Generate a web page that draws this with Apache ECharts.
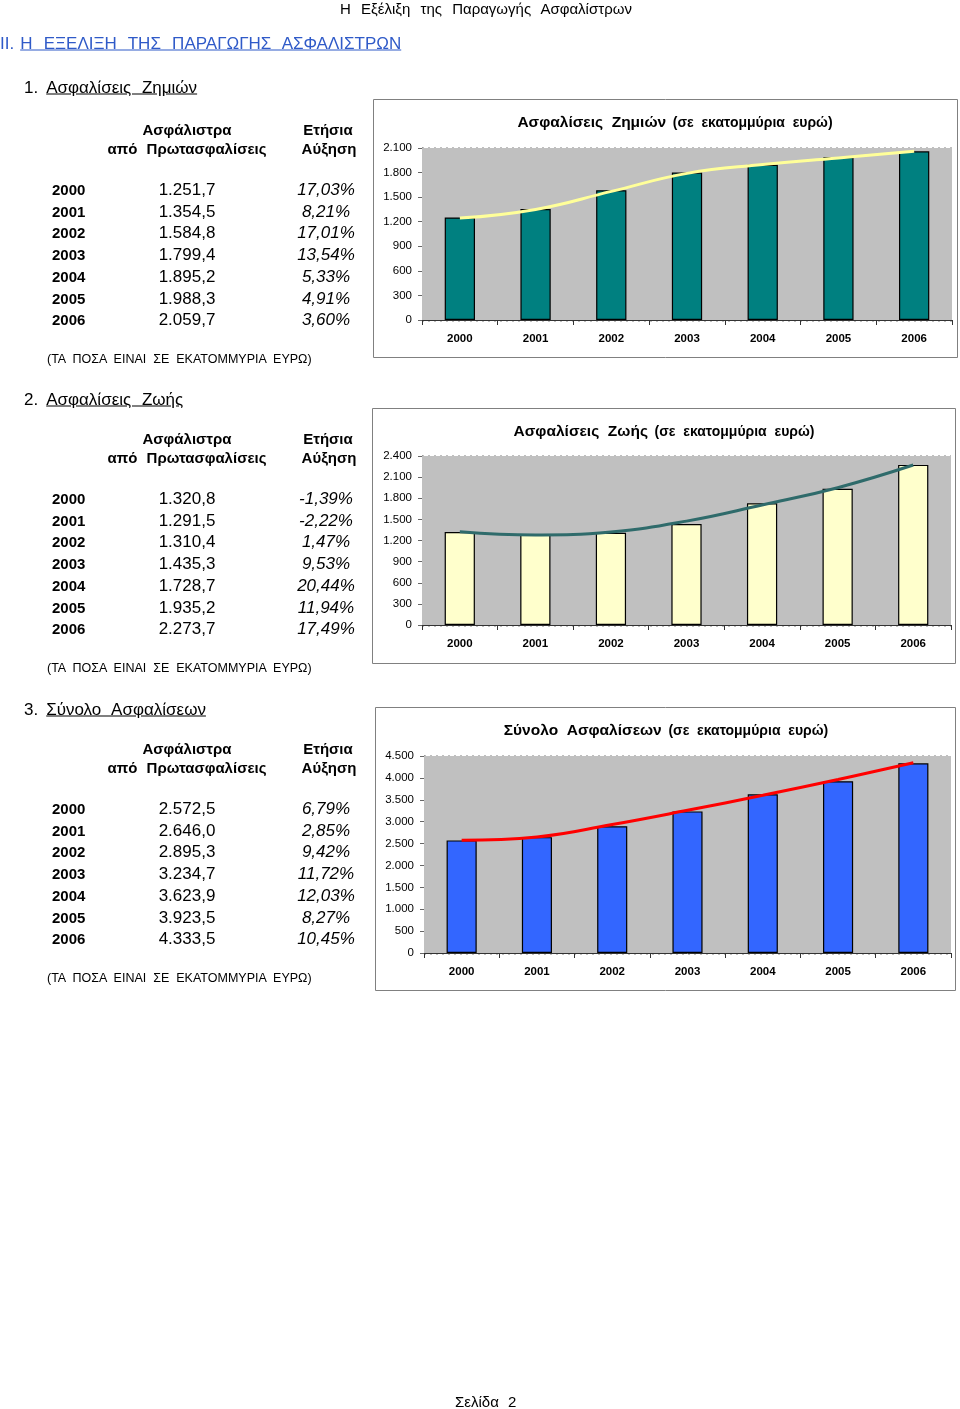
<!DOCTYPE html>
<html><head><meta charset="utf-8">
<script src="https://cdn.jsdelivr.net/npm/echarts@6/dist/echarts.min.js"></script>
<style>
body{margin:0;background:#fff;}
#page{position:relative;width:960px;height:1409px;font-family:"Liberation Sans",Arial,sans-serif;color:#000;overflow:hidden;}
#chart{position:absolute;left:0;top:0;width:960px;height:1409px;}
.t{position:absolute;white-space:pre;word-spacing:5px;line-height:1;}
.u{text-decoration:underline;}
</style></head><body><div id="page"><div id="chart"></div></div>
<script>
// ---------- data ----------
const years = ['2000','2001','2002','2003','2004','2005','2006'];

const damagePremiums = [1251.7, 1354.5, 1584.8, 1799.4, 1895.2, 1988.3, 2059.7];
const damageGrowth   = ['17,03%','8,21%','17,01%','13,54%','5,33%','4,91%','3,60%'];
const damageTrend    = [1244, 1350, 1570, 1790, 1898, 1978, 2060];

const lifePremiums = [1320.8, 1291.5, 1310.4, 1435.3, 1728.7, 1935.2, 2273.7];
const lifeGrowth   = ['-1,39%','-2,22%','1,47%','9,53%','20,44%','11,94%','17,49%'];
const lifeTrend    = [1325, 1278, 1322, 1475, 1704, 1950, 2272];

const totalPremiums = [2572.5, 2646.0, 2895.3, 3234.7, 3623.9, 3923.5, 4333.5];
const totalGrowth   = ['6,79%','2,85%','9,42%','11,72%','12,03%','8,27%','10,45%'];
const totalTrend    = [2577, 2650, 2935, 3260, 3603, 3965, 4345];

const pageHeader = 'Η Εξέλιξη της Παραγωγής Ασφαλίστρων';
const chapterTitle = 'Η ΕΞΕΛΙΞΗ ΤΗΣ ΠΑΡΑΓΩΓΗΣ ΑΣΦΑΛΙΣΤΡΩΝ';
const sectionTitles = ['Ασφαλίσεις Ζημιών','Ασφαλίσεις Ζωής','Σύνολο Ασφαλίσεων'];
const chartUnit = '(σε εκατομμύρια ευρώ)';
const tableNote = '(ΤΑ ΠΟΣΑ ΕΙΝΑΙ ΣΕ ΕΚΑΤΟΜΜΥΡΙΑ ΕΥΡΩ)';
const footer = 'Σελίδα 2';

// ---------- helpers ----------
const page = document.getElementById('page');
function fmtGr(v, dec){
  let s = v.toFixed(dec);
  let [i, d] = s.split('.');
  i = i.replace(/\B(?=(\d{3})+(?!\d))/g, '.');
  return d !== undefined ? i + ',' + d : i;
}
function txt(html, x, y, css, align){
  const d = document.createElement('div');
  d.className = 't';
  d.innerHTML = html;
  d.style.left = x + 'px';
  d.style.top = y + 'px';
  const tx = align === 'center' ? '-50%' : (align === 'right' ? '-100%' : '0');
  d.style.transform = 'translate(' + tx + ',-50%)';
  d.style.cssText += ';' + (css || '');
  page.appendChild(d);
  return d;
}

// ---------- page text ----------
txt(pageHeader, 340, 8, 'font-size:15px;word-spacing:6px;');
txt('II.<span class="u" style="margin-left:6px">' + chapterTitle + '</span>', 0, 43, 'font-size:17px;color:#2f5ac8;word-spacing:6.5px;');

const tables = [
  {premiums: damagePremiums, growth: damageGrowth, head: 87, top: 129},
  {premiums: lifePremiums,   growth: lifeGrowth,   head: 399, top: 438},
  {premiums: totalPremiums,  growth: totalGrowth,  head: 709, top: 748}
];
tables.forEach((tb, k) => {
  txt((k+1) + '.<span class="u" style="margin-left:8px">' + sectionTitles[k] + '</span>', 24, tb.head, 'font-size:17px;word-spacing:6px;');
  txt('Ασφάλιστρα', 187, tb.top, 'font-size:15px;font-weight:bold;', 'center');
  txt('από Πρωτασφαλίσεις', 187, tb.top + 19, 'font-size:15px;font-weight:bold;', 'center');
  txt('Ετήσια', 328, tb.top, 'font-size:15px;font-weight:bold;', 'center');
  txt('Αύξηση', 329, tb.top + 19, 'font-size:15px;font-weight:bold;', 'center');
  years.forEach((y, i) => {
    const ry = tb.top + 60 + i * 21.7;
    txt(y, 52, ry, 'font-size:15px;font-weight:bold;');
    txt(fmtGr(tb.premiums[i], 1), 187, ry, 'font-size:17px;', 'center');
    txt(tb.growth[i], 326, ry, 'font-size:17px;font-style:italic;', 'center');
  });
  txt(tableNote, 47, tb.top + 230, 'font-size:12.5px;word-spacing:3.5px;');
});
txt(footer, 455, 1401, 'font-size:15px;');

// ---------- charts ----------
const chartDefs = [
  {title: sectionTitles[0], values: damagePremiums, trend: damageTrend, max: 2100, interval: 300,
   bar: '#008080', line: '#ffff99', grid: {left: 422, top: 148, width: 530, height: 172},
   box: [373, 99, 584, 258], tx: 675, ty: 123},
  {title: sectionTitles[1], values: lifePremiums, trend: lifeTrend, max: 2400, interval: 300,
   bar: '#ffffcc', line: '#2f6b6b', grid: {left: 422, top: 456, width: 529, height: 169},
   box: [372, 408, 583, 255], tx: 664, ty: 432},
  {title: sectionTitles[2], values: totalPremiums, trend: totalTrend, max: 4500, interval: 500,
   bar: '#3366ff', line: '#ff0000', grid: {left: 424, top: 756, width: 527, height: 197},
   box: [375, 707, 580, 283], tx: 666, ty: 731}
];

const chart = echarts.init(document.getElementById('chart'));
const option = {
  animation: false,
  grid: [], xAxis: [], yAxis: [], series: [], graphic: []
};
chartDefs.forEach((c, k) => {
  option.graphic.push({
    type: 'rect', z: -10, silent: true,
    shape: {x: c.box[0] + 0.5, y: c.box[1] + 0.5, width: c.box[2], height: c.box[3]},
    style: {fill: '#fff', stroke: '#808080', lineWidth: 1}
  });
  option.graphic.push({
    type: 'text', x: c.tx, y: c.ty, z: 10,
    style: {
      text: '{a|' + c.title.replace(' ', '  ') + '}  {b|' + chartUnit.replace(/ /g, '  ') + '}',
      align: 'center', verticalAlign: 'middle',
      rich: {
        a: {fontFamily: 'Liberation Sans', fontSize: 15.5, fontWeight: 'bold', fill: '#000'},
        b: {fontFamily: 'Liberation Sans', fontSize: 14, fontWeight: 'bold', fill: '#000'}
      }
    }
  });
  option.grid.push(Object.assign({show: true, backgroundColor: '#c0c0c0', borderWidth: 0, z: 1}, c.grid));
  option.xAxis.push({
    type: 'category', gridIndex: k, data: years, boundaryGap: true,
    axisLine: {lineStyle: {color: '#333', width: 1}},
    axisTick: {show: true, length: 5, lineStyle: {color: '#333'}},
    axisLabel: {fontFamily: 'Liberation Sans', fontSize: 11.5, fontWeight: 'bold', color: '#000', margin: 13},
    splitLine: {show: false}
  });
  option.yAxis.push({
    type: 'value', gridIndex: k, min: 0, max: c.max, interval: c.interval,
    axisLine: {show: true, lineStyle: {color: '#666', width: 1}},
    axisTick: {show: true, length: 4, lineStyle: {color: '#666'}},
    axisLabel: {fontFamily: 'Liberation Sans', fontSize: 11.5, color: '#000', margin: 10,
      formatter: v => fmtGr(v, 0)},
    splitLine: {show: true, lineStyle: {color: '#000', type: [2, 4], width: 1.3}}
  });
  option.series.push({
    type: 'bar', xAxisIndex: k, yAxisIndex: k, data: c.values, barWidth: '40%',
    itemStyle: {color: c.bar, borderColor: '#000', borderWidth: 1.2}, z: 2
  });
  option.series.push({
    type: 'line', xAxisIndex: k, yAxisIndex: k, data: c.trend, smooth: 0.45,
    symbol: 'none', lineStyle: {color: c.line, width: 3}, z: 3
  });
});
chart.setOption(option);
</script>
</body></html>
